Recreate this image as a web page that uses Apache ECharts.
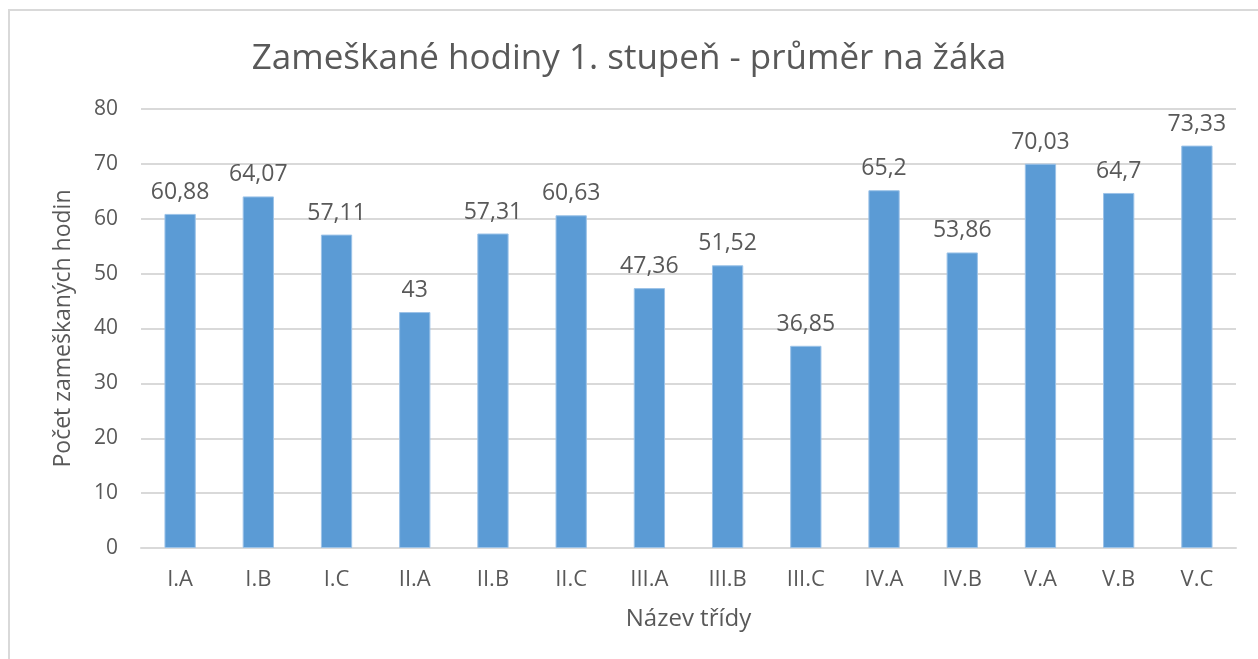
<!DOCTYPE html>
<html>
<head>
<meta charset="utf-8">
<title>Zameškané hodiny</title>
<script src="https://cdn.jsdelivr.net/npm/echarts@6/dist/echarts.min.js"></script>
<style>
  html, body { margin: 0; padding: 0; background: #fff; overflow: hidden; }
  #chart { width: 1258px; height: 659px; }
  #frame {
    position: absolute; left: 8px; top: 9px; width: 1300px; height: 700px;
    border: 2px solid #d9d9d9; pointer-events: none;
  }
</style>
</head>
<body>
<div id="chart"></div>
<div id="frame"></div>
<script>
// třídy a průměr zameškaných hodin na žáka
const classes = ["I.A", "I.B", "I.C", "II.A", "II.B", "II.C", "III.A", "III.B", "III.C", "IV.A", "IV.B", "V.A", "V.B", "V.C"];
const hours = [60.88, 64.07, 57.11, 43, 57.31, 60.63, 47.36, 51.52, 36.85, 65.2, 53.86, 70.03, 64.7, 73.33];
const yTicks = { min: 0, max: 80, interval: 10 };

const font = "'Open Sans', 'Noto Sans', sans-serif";
const grey = "#595959";

let chart = echarts.init(document.getElementById("chart"));
chart.setOption({
  textStyle: { fontFamily: font },
  title: {
    text: "Zameškané hodiny 1. stupeň - průměr na žáka",
    left: "center",
    top: 37,
    textStyle: { fontSize: 35, fontWeight: "normal", color: grey, fontFamily: font }
  },
  grid: { left: 141, right: 22, top: 109, bottom: 111 },
  xAxis: {
    type: "category",
    data: classes,
    name: "Název třídy",
    nameLocation: "middle",
    nameGap: 59,
    nameTextStyle: { fontSize: 24, color: grey },
    axisLine: { lineStyle: { color: "#d9d9d9", width: 2 } },
    axisTick: { show: false },
    axisLabel: { fontSize: 22, color: grey, margin: 21 }
  },
  yAxis: {
    type: "value",
    min: yTicks.min,
    max: yTicks.max,
    interval: yTicks.interval,
    name: "Počet zameškaných hodin",
    nameLocation: "middle",
    nameGap: 66,
    nameTextStyle: { fontSize: 23, color: grey },
    axisLabel: { fontSize: 21, color: grey, margin: 23 },
    splitLine: { lineStyle: { color: "#d9d9d9", width: 2 } }
  },
  series: [{
    type: "bar",
    data: hours,
    barWidth: "40%",
    itemStyle: { color: "#5b9bd5", borderColor: "#9cc3e8", borderWidth: 1 },
    label: {
      show: true,
      position: "top",
      distance: 10,
      fontSize: 23,
      color: grey,
      formatter: p => String(p.value).replace(".", ",")
    }
  }]
});
</script>
</body>
</html>
